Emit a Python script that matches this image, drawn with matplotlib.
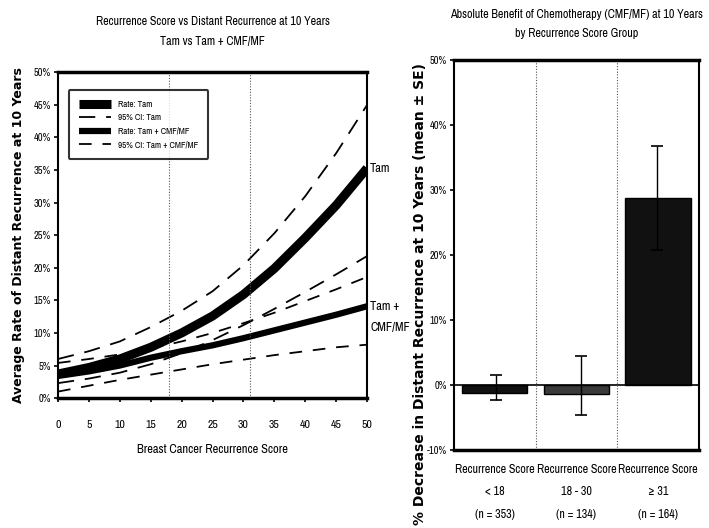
import matplotlib
matplotlib.use("Agg")
import matplotlib.pyplot as plt
import numpy as np

plt.rcParams['font.family'] = ['Archivo Narrow', 'DejaVu Sans']

# left panel: rate of distant recurrence vs recurrence score
score = [0, 5, 10, 15, 20, 25, 30, 35, 40, 45, 50]
tam_rate = [3.7, 4.7, 6.0, 7.8, 10.0, 12.6, 15.9, 19.9, 24.6, 29.6, 35.3]
tam_hi = [6.0, 7.2, 8.7, 10.9, 13.4, 16.4, 20.4, 25.3, 31.0, 37.6, 45.0]
tam_lo = [2.3, 3.0, 3.9, 5.2, 6.9, 8.9, 11.2, 13.7, 16.3, 19.0, 21.8]
cmf_rate = [3.4, 4.1, 5.0, 6.2, 7.2, 8.1, 9.2, 10.4, 11.6, 12.8, 14.1]
cmf_hi = [5.4, 6.0, 6.7, 7.6, 8.7, 10.0, 11.5, 13.1, 14.9, 16.7, 18.6]
cmf_lo = [1.0, 1.9, 2.8, 3.6, 4.4, 5.2, 5.9, 6.6, 7.2, 7.8, 8.2]
cutoffs = [18, 31]

# right panel: absolute benefit by group
groups = ['Recurrence Score\n< 18\n(n = 353)',
          'Recurrence Score\n18 - 30\n(n = 134)',
          'Recurrence Score\n\u2265 31\n(n = 164)']
benefit = [-1.2, -1.4, 28.7]
err_low = [1.1, 3.2, 8.0]
err_high = [2.7, 5.8, 8.0]
bar_colors = ['#111111', '#3a3a3a', '#111111']

fig = plt.figure(figsize=(7.09, 5.28), dpi=100)

# ---- left chart ----
ax1 = fig.add_axes([0.0818, 0.246, 0.436, 0.617])
ax1.plot(score, tam_rate, color='black', lw=6.5, solid_capstyle='butt', label='Rate: Tam')
ax1.plot(score, tam_hi, color='black', lw=1.3, ls=(0, (9, 6)), label='95% CI: Tam')
ax1.plot(score, tam_lo, color='black', lw=1.3, ls=(0, (9, 6)))
ax1.plot(score, cmf_rate, color='black', lw=4.5, solid_capstyle='butt', label='Rate: Tam + CMF/MF')
ax1.plot(score, cmf_hi, color='black', lw=1.3, ls=(0, (7, 6)), label='95% CI: Tam + CMF/MF')
ax1.plot(score, cmf_lo, color='black', lw=1.3, ls=(0, (7, 6)))
for c in cutoffs:
    ax1.axvline(c, color='#555555', lw=0.8, ls=(0, (1, 1.5)))

ax1.set_xlim(0, 50)
ax1.set_ylim(0, 50)
ax1.set_xticks(np.arange(0, 51, 5))
ax1.set_yticks(np.arange(0, 51, 5))
ax1.set_yticklabels(['%d%%' % v for v in range(0, 51, 5)])
ax1.tick_params(width=1.2, length=3)
ax1.tick_params(axis='x', labelsize=8.5, pad=13)
ax1.tick_params(axis='y', labelsize=7.5, pad=2)
for s in ax1.spines.values():
    s.set_linewidth(1.5)
ax1.spines['top'].set_linewidth(2.5)
ax1.spines['bottom'].set_linewidth(2.5)

ax1.set_title('Recurrence Score vs Distant Recurrence at 10 Years\nTam vs Tam + CMF/MF',
              fontsize=8.7, pad=20, linespacing=1.9)
ax1.set_xlabel('Breast Cancer Recurrence Score', fontsize=9, labelpad=10)
ax1.set_ylabel('Average Rate of Distant Recurrence at 10 Years', fontsize=9,
               family=['DejaVu Sans'], fontweight='bold', labelpad=6)

leg = ax1.legend(loc='upper left', bbox_to_anchor=(0.02, 0.96), fontsize=6.5,
                 frameon=True, fancybox=True, edgecolor='black', handlelength=3.6,
                 borderpad=1.1, labelspacing=0.5)
leg.get_frame().set_linewidth(1.5)

ax1.text(1.01, tam_rate[-1], 'Tam', transform=ax1.get_yaxis_transform(),
         fontsize=9, va='center', ha='left')
ax1.text(1.01, cmf_rate[-1] - 1.6, 'Tam +\nCMF/MF', transform=ax1.get_yaxis_transform(),
         fontsize=9, va='center', ha='left', linespacing=2.1)

# ---- right chart ----
ax2 = fig.add_axes([0.640, 0.148, 0.346, 0.739])
xpos = np.arange(len(groups)) + 0.5
ax2.bar(xpos, benefit, width=0.8, color=bar_colors, edgecolor='black')
ax2.errorbar(xpos + np.array([0.02, 0.05, -0.02]), benefit,
             yerr=[err_low, err_high], fmt='none', ecolor='black', elinewidth=1.0,
             capsize=4, capthick=1.2)
ax2.axhline(0, color='black', lw=1.2)
for b in [1, 2]:
    ax2.axvline(b, color='#555555', lw=0.8, ls=(0, (1, 1.5)))

ax2.set_xlim(0, 3)
ax2.set_ylim(-10, 50)
ax2.set_yticks(np.arange(-10, 51, 10))
ax2.set_yticklabels(['%d%%' % v for v in range(-10, 51, 10)])
ax2.set_xticks(xpos)
ax2.set_xticklabels(groups, fontsize=8.7, linespacing=2.3)
ax2.tick_params(axis='x', length=0, pad=10)
ax2.tick_params(axis='y', labelsize=7.5, width=1.2, length=3, pad=2)
for s in ax2.spines.values():
    s.set_linewidth(1.5)
ax2.spines['top'].set_linewidth(2.5)
ax2.spines['bottom'].set_linewidth(2.5)

ax2.set_title('Absolute Benefit of Chemotherapy (CMF/MF) at 10 Years\nby Recurrence Score Group',
              fontsize=8.7, pad=16, linespacing=1.9)
ax2.set_ylabel('% Decrease in Distant Recurrence at 10 Years (mean \u00b1 SE)', fontsize=10,
               family=['DejaVu Sans'], fontweight='bold')
ax2.yaxis.set_label_coords(-0.11, 0.4)

fig.savefig('out.png', dpi=100)
